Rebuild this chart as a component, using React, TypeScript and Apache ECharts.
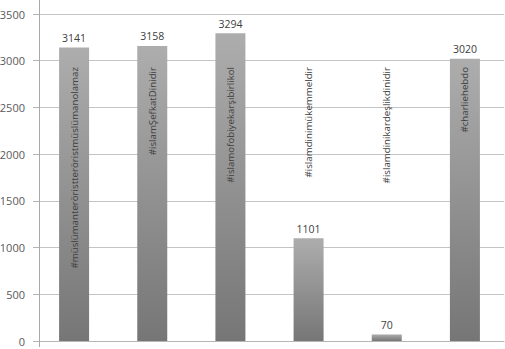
import React, { useEffect, useRef } from "react";
import * as echarts from "echarts";

const categories = [
  "#müslümanteröristteröristmüslümanolamaz",
  "#islamŞefkatDinidir",
  "#islamofobiyekarşıbirlikol",
  "#islamdinimükemmeldir",
  "#islamdinikardeşlikdinidir",
  "#charliehebdo",
];
const values = [3141, 3158, 3294, 1101, 70, 3020];
const yTicks = [0, 500, 1000, 1500, 2000, 2500, 3000, 3500];

export default function App() {
  const ref = useRef<HTMLDivElement>(null);
  useEffect(() => {
    if (!ref.current) return;
    const chart = echarts.init(ref.current, undefined, { renderer: "svg" });
    const font = "'Open Sans', 'Noto Sans', sans-serif";
    chart.setOption({
      animation: false,
      grid: {
        left: 35,
        right: 1,
        top: 14,
        bottom: 8,
        containLabel: false,
        outerBoundsMode: "none",
      },
      xAxis: [
        {
          type: "category",
          data: categories,
          position: "bottom",
          axisLine: { show: true, lineStyle: { color: "#b5b5b5", width: 1 } },
          axisTick: { show: false },
          axisLabel: { show: false },
          splitLine: { show: false },
        },
        {
          type: "category",
          data: categories,
          position: "top",
          z: 10,
          axisLine: { show: false },
          axisTick: { show: false },
          axisLabel: {
            show: true,
            inside: true,
            rotate: -90,
            margin: 53,
            fontSize: 9.7,
            color: "#404040",
            fontFamily: font,
          },
          splitLine: { show: false },
        },
      ],
      yAxis: {
        type: "value",
        min: yTicks[0],
        max: yTicks[yTicks.length - 1],
        interval: 500,
        offset: -4,
        axisLine: { show: false },
        axisTick: { show: true, length: 6, lineStyle: { color: "#b5b5b5" } },
        axisLabel: {
          margin: 14,
          fontSize: 11,
          color: "#595959",
          fontFamily: font,
          formatter: (v: number) => String(v),
        },
        splitLine: { show: true, lineStyle: { color: "#c4c4c4", width: 1 } },
      },
      graphic: [
        {
          type: "line",
          shape: { x1: 39.5, y1: 0, x2: 39.5, y2: 347 },
          style: { stroke: "#a8a8a8", lineWidth: 1 },
          z: 10,
        },
      ],
      series: [
        {
          type: "bar",
          data: values,
          xAxisIndex: 0,
          barWidth: 30,
          itemStyle: {
            color: new echarts.graphic.LinearGradient(0, 0, 0, 1, [
              { offset: 0, color: "#adadad" },
              { offset: 1, color: "#767676" },
            ]),
          },
          label: {
            show: true,
            position: "top",
            distance: 4,
            fontSize: 10.5,
            color: "#404040",
            fontFamily: font,
          },
        },
      ],
    });
    return () => chart.dispose();
  }, []);
  return (
    <div
      ref={ref}
      style={{ position: "absolute", left: 0, top: 0, width: 505, height: 349 }}
    />
  );
}
